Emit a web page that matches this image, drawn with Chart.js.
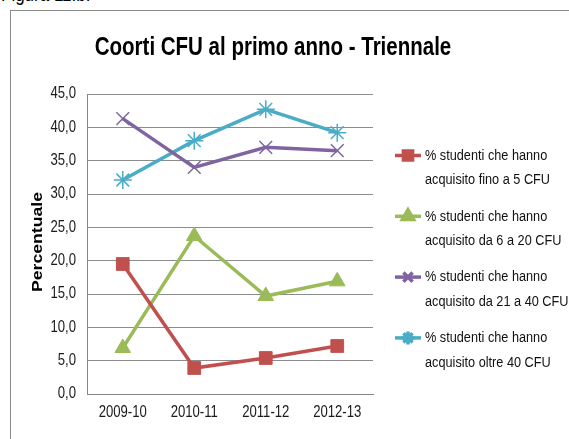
<!DOCTYPE html>
<html>
<head>
<meta charset="utf-8">
<script src="https://cdn.jsdelivr.net/npm/chart.js@4/dist/chart.umd.min.js"></script>
<style>
  body { margin: 0; background: #fff; overflow: hidden; }
  #wrap { position: relative; width: 569px; height: 439px; }
  #fig { position: absolute; left: 1px; top: -17px; font: 20px "Liberation Sans", sans-serif; color: #000; transform: scaleX(0.85); transform-origin: 0 0; }
  #box { position: absolute; left: 10px; top: 10px; width: 600px; height: 500px; border: 1px solid #8a8a8a; border-width: 1.5px 0 0 1.5px; }
  canvas { position: absolute; left: 0; top: 0; }
</style>
</head>
<body>
<div id="wrap">
  <div id="fig">Figura 11.b.</div>
  <div id="box"></div>
  <canvas id="chart" width="569" height="439"></canvas>
</div>
<script>
var years = ['2009-10', '2010-11', '2011-12', '2012-13']
var upTo5 = [19.5, 3.9, 5.4, 7.2]
var from6to20 = [6.9, 23.7, 14.7, 16.9]
var from21to40 = [41.3, 34.0, 37.0, 36.5]
var over40 = [32.1, 38.0, 42.7, 39.2]
var legendLines = [
    ['% studenti che hanno', 'acquisito fino a 5 CFU'],
    ['% studenti che hanno', 'acquisito da 6 a 20 CFU'],
    ['% studenti che hanno', 'acquisito da 21 a 40 CFU'],
    ['% studenti che hanno', 'acquisito oltre 40 CFU']
]

var sans = '"Liberation Sans", sans-serif'
var SQUEEZE = 0.82  // the original font is a narrow one

function series(label, data, color, style, radius, bw) {
    return {
        label: label,
        data: data,
        borderColor: color,
        backgroundColor: color,
        borderWidth: 3.5,
        tension: 0,
        pointStyle: style,
        pointRadius: radius,
        pointHoverRadius: radius,
        pointBorderWidth: bw,
        pointBorderColor: color,
        pointBackgroundColor: color
    }
}

function narrowText(ctx, text, x, y, align, font) {
    ctx.save()
    ctx.translate(x, y)
    ctx.scale(SQUEEZE, 1)
    ctx.font = font
    ctx.textAlign = align
    ctx.textBaseline = 'middle'
    ctx.fillText(text, 0, 0)
    ctx.restore()
}

// tick labels, title, y axis title and the two-line legend on the right
var extras = {
    id: 'extras',
    afterDraw(chart) {
        var ctx = chart.ctx
        var xs = chart.scales.x, ys = chart.scales.y
        ctx.save()
        ctx.fillStyle = '#1a1a1a'
        ys.ticks.forEach(function (t) {
            var label = t.value.toFixed(1).replace('.', ',')
            narrowText(ctx, label, 76, ys.getPixelForValue(t.value), 'right', '16px ' + sans)
        })
        years.forEach(function (y, i) {
            narrowText(ctx, y, xs.getPixelForValue(i), 413, 'center', '16px ' + sans)
        })

        ctx.fillStyle = '#000'
        narrowText(ctx, 'Coorti CFU al primo anno - Triennale', 273, 48, 'center', 'bold 25px ' + sans)

        ctx.save()
        ctx.translate(38, 242)
        ctx.rotate(-Math.PI / 2)
        ctx.scale(1.26, 1)
        ctx.font = 'bold 14px ' + sans
        ctx.textAlign = 'center'
        ctx.textBaseline = 'middle'
        ctx.fillText('Percentuale', 0, 0)
        ctx.restore()

        chart.data.datasets.forEach(function (ds, i) {
            var y = 155.5 + 60.8 * i
            ctx.strokeStyle = ds.borderColor
            ctx.lineWidth = 3.5
            ctx.beginPath()
            ctx.moveTo(395, y)
            ctx.lineTo(421, y)
            ctx.stroke()
            ctx.fillStyle = ds.backgroundColor
            Chart.helpers.drawPoint(ctx, {
                pointStyle: ds.pointStyle, radius: 6.5,
                borderWidth: 1, rotation: 0
            }, 408, y)
            ctx.fillStyle = '#111'
            narrowText(ctx, legendLines[i][0], 425, y, 'left', '15.5px ' + sans)
            narrowText(ctx, legendLines[i][1], 425, y + 24.5, 'left', '15.5px ' + sans)
        })
        ctx.restore()
    }
}

var ctx = document.getElementById('chart').getContext('2d')
var myChart = new Chart(ctx, {
    type: 'line',
    data: {
        labels: years,
        datasets: [
            series(legendLines[0].join(' '), upTo5, '#C0504D', 'rect', 9, 1),
            series(legendLines[1].join(' '), from6to20, '#9BBB59', 'triangle', 9, 1),
            series(legendLines[2].join(' '), from21to40, '#8064A2', 'crossRot', 9, 1.5),
            series(legendLines[3].join(' '), over40, '#4BACC6', 'star', 9, 1.5)
        ]
    },
    options: {
        responsive: false,
        animation: false,
        layout: { padding: { left: 0, top: 94, right: 196, bottom: 0 } },
        plugins: {
            legend: { display: false },
            title: { display: false },
            tooltip: { enabled: false }
        },
        scales: {
            x: {
                offset: true,
                afterFit(scale) { scale.height = 45 },
                grid: { display: false, drawTicks: false },
                border: { display: true, color: '#868686', width: 1 },
                ticks: { display: false }
            },
            y: {
                min: 0,
                max: 45,
                afterFit(scale) { scale.width = 87 },
                grid: { color: '#8c8c8c', lineWidth: 1, drawTicks: false },
                border: { display: true, color: '#868686', width: 1 },
                ticks: { display: false, stepSize: 5 }
            }
        }
    },
    plugins: [extras]
})
</script>
</body>
</html>
